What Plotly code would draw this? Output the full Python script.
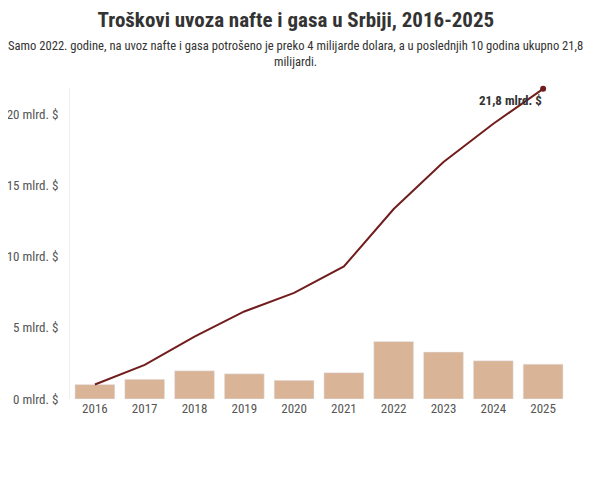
import plotly.graph_objects as go

years = [2016, 2017, 2018, 2019, 2020, 2021, 2022, 2023, 2024, 2025]
# yearly import cost, billions of dollars
yearly = [1.02, 1.38, 1.98, 1.77, 1.31, 1.85, 4.04, 3.30, 2.69, 2.45]
# running total over the period
cumulative = [1.02, 2.40, 4.38, 6.15, 7.46, 9.31, 13.35, 16.65, 19.34, 21.79]
ytick_vals = [0, 5, 10, 15, 20]
ytick_text = ["0 mlrd. $", "5 mlrd. $", "10 mlrd. $", "15 mlrd. $", "20 mlrd. $"]

font_family = "Roboto Condensed, Liberation Sans Narrow, Roboto, sans-serif"

fig = go.Figure()

fig.add_trace(go.Bar(
    x=years,
    y=yearly,
    width=0.8,
    marker=dict(color="#d9b497"),
    hoverinfo="skip",
))

fig.add_trace(go.Scatter(
    x=years,
    y=cumulative,
    mode="lines",
    line=dict(color="#721d1d", width=2),
    cliponaxis=False,
    hoverinfo="skip",
))

# dot on the last point only
fig.add_trace(go.Scatter(
    x=[years[-1]],
    y=[cumulative[-1]],
    mode="markers",
    marker=dict(color="#721d1d", size=6, symbol="circle"),
    cliponaxis=False,
    hoverinfo="skip",
))

fig.add_annotation(
    x=years[-1], y=cumulative[-1],
    text="<b>21,8 mlrd. $</b>",
    showarrow=False,
    xanchor="right", yanchor="middle",
    xshift=1, yshift=-12,
    font=dict(size=13, color="#333333", family=font_family),
)

# page body adds 8px around the figure, so the figure is 8px smaller
fig.update_layout(
    width=584,
    height=474,
    margin=dict(l=62, r=24, t=80, b=83),
    paper_bgcolor="white",
    plot_bgcolor="white",
    showlegend=False,
    font=dict(family=font_family, size=13, color="#555555"),
    title=dict(
        text="<b>Troškovi uvoza nafte i gasa u Srbiji, 2016-2025</b>",
        x=0.493, xanchor="center",
        y=0.975, yanchor="middle",
        font=dict(size=21, color="#333333", family=font_family),
    ),
    xaxis=dict(
        range=[2015.5, 2025.5],
        tickvals=years,
        ticktext=[str(y) for y in years],
        showgrid=False,
        showline=False,
        zeroline=False,
        ticks="",
        automargin=False,
        tickfont=dict(size=13, color="#555555"),
    ),
    yaxis=dict(
        range=[0, 21.85],
        tickvals=ytick_vals,
        ticktext=ytick_text,
        showgrid=False,
        zeroline=False,
        showline=True,
        linecolor="#eeeeee",
        linewidth=1,
        ticks="",
        automargin=False,
        ticklabelstandoff=8,
        tickfont=dict(size=13, color="#555555"),
    ),
)

sub_lines = [
    "Samo 2022. godine, na uvoz nafte i gasa potrošeno je preko 4 milijarde dolara, a u poslednjih 10 godina ukupno 21,8",
    "milijardi.",
]
for i, line in enumerate(sub_lines):
    fig.add_annotation(
        xref="paper", yref="paper",
        x=0.4538, y=1.0,
        xanchor="center", yanchor="middle",
        yshift=43 - 16 * i,
        text=line,
        showarrow=False,
        font=dict(size=12.6, color="#333333", family=font_family),
    )

fig.write_html("out.html")
